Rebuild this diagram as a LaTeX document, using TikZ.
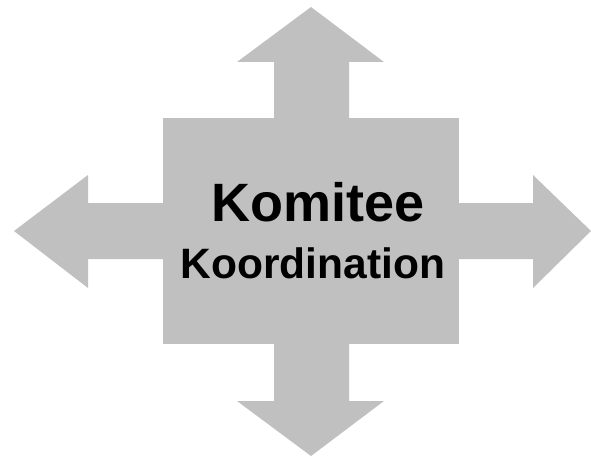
\documentclass[tikz,border=0pt]{standalone}
\usepackage{fontspec}
\setmainfont{Liberation Sans}
\definecolor{kreuzgrau}{RGB}{192,192,192}
\begin{document}
\begin{tikzpicture}[x=1pt, y=-1pt, every node/.style={font=\bfseries}]
    \useasboundingbox (0,0) rectangle (591,457);

    % Mittelfeld
    \node[fill=kreuzgrau, minimum width=296pt, minimum height=226pt, inner sep=0pt] (mitte) at (311,231) {};

    % Pfeil oben
    \fill[kreuzgrau] (274,119) -- (274,62) -- (237,62) -- (311,7) -- (384,62) -- (349,62) -- (349,119) -- cycle;

    % Pfeil unten
    \fill[kreuzgrau] (274,343) -- (274,401) -- (237,401) -- (311,456) -- (384,401) -- (349,401) -- (349,343) -- cycle;

    % Pfeil links
    \fill[kreuzgrau] (164,203) -- (88,203) -- (88,175) -- (14,231) -- (88,288) -- (88,259) -- (164,259) -- cycle;

    % Pfeil rechts
    \fill[kreuzgrau] (458,203) -- (533,203) -- (533,175) -- (591,231) -- (533,288) -- (533,259) -- (458,259) -- cycle;

    % Beschriftung
    \node[anchor=base, font=\fontsize{54}{54}\selectfont\bfseries, inner sep=0pt] (komitee) at (318,221.5) {Komitee};
    \node[anchor=base, font=\fontsize{42.5}{42.5}\selectfont\bfseries, inner sep=0pt] (koordination) at (313,278) {Koordination};
\end{tikzpicture}
\end{document}
